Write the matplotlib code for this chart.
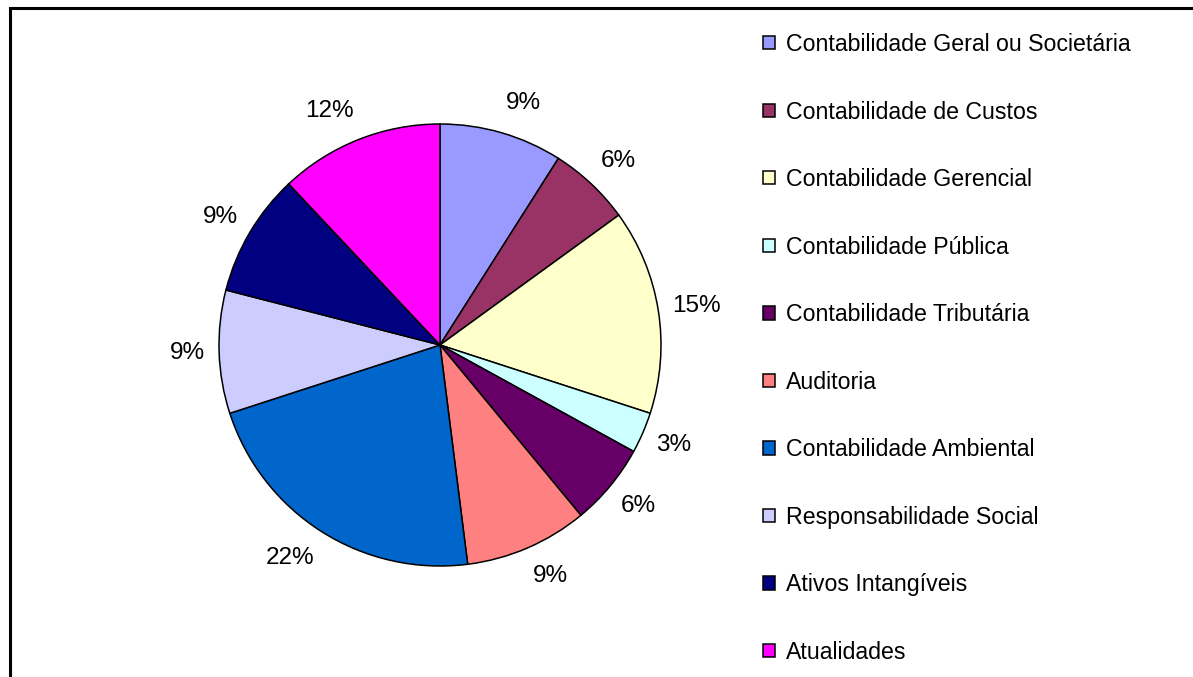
import numpy as np
import matplotlib
matplotlib.use('Agg')
import matplotlib.pyplot as plt  # noqa E402
from matplotlib.patches import Rectangle  # noqa E402

plt.rcParams['font.family'] = ['Liberation Sans', 'DejaVu Sans']

areas = ["Contabilidade Geral ou Societária",
         "Contabilidade de Custos",
         "Contabilidade Gerencial",
         "Contabilidade Pública",
         "Contabilidade Tributária",
         "Auditoria",
         "Contabilidade Ambiental",
         "Responsabilidade Social",
         "Ativos Intangíveis",
         "Atualidades"]
percent = [9, 6, 15, 3, 6, 9, 22, 9, 9, 12]
colors = ["#9999FF", "#993366", "#FFFFCC", "#CCFFFF", "#660066",
          "#FF8080", "#0066CC", "#CCCCFF", "#000080", "#FF00FF"]

W, H = 1193, 677
fig = plt.figure(figsize=(W / 100, H / 100), dpi=100)

# chart frame (right and bottom edges fall outside the image)
fig.patches.append(Rectangle((10 / W, -0.1), 1.2, (H - 8) / H + 0.1,
                             transform=fig.transFigure, fill=False,
                             edgecolor='black', linewidth=2.2))

cx, cy, r = 440, 345, 221
ax = fig.add_axes([(cx - r) / W, (H - cy - r) / H, 2 * r / W, 2 * r / H])
wedges, texts = ax.pie(percent, colors=colors, startangle=90,
                       counterclock=False, radius=1,
                       labels=[f"{p}%" for p in percent],
                       wedgeprops=dict(edgecolor='black', linewidth=1.1),
                       textprops=dict(fontsize=17.5))

# labels sit beside the slice: inner edge on a ring, height on a wider ring
for w, t in zip(wedges, texts):
    ang = np.deg2rad((w.theta1 + w.theta2) / 2)
    c, s = np.cos(ang), np.sin(ang)
    t.set_position((1.063 * c, 1.14 * s))
    t.set_horizontalalignment('left' if c >= 0 else 'right')
    t.set_verticalalignment('center')

ax.set_xlim(-1, 1)
ax.set_ylim(-1, 1)
ax.axis('off')

leg = fig.legend(wedges, areas, loc='upper left',
                 bbox_to_anchor=(763 / W, 1 - 33 / H),
                 frameon=False, fontsize=16.7,
                 handlelength=0.5, handleheight=0.5,
                 handletextpad=0.5, labelspacing=1.92,
                 borderaxespad=0, borderpad=0)

fig.savefig('out.png', dpi=100)
plt.close(fig)
